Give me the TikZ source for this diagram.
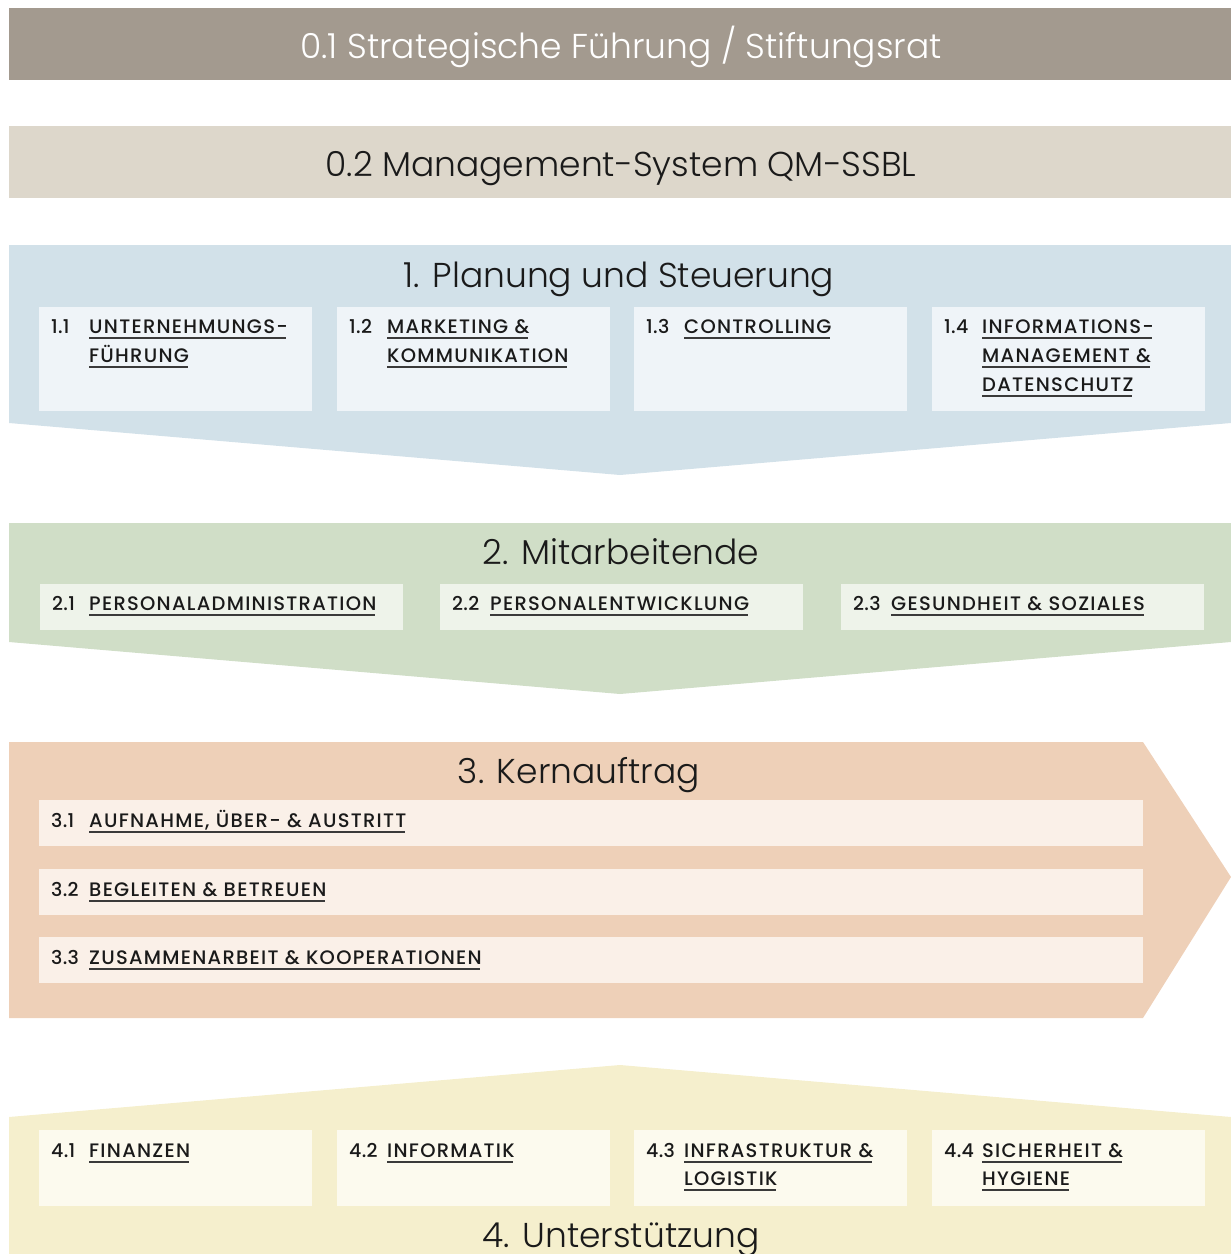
\documentclass[tikz,border=0pt]{standalone}
\usepackage{fontspec}
\setmainfont{Poppins}
\newfontfamily\titlefont{Poppins Light}
\newfontfamily\labfont{Poppins Medium}[LetterSpace=6.5]
\newfontfamily\numfont{Poppins Medium}[LetterSpace=1.5]
\definecolor{cA}{HTML}{A39A8F}
\definecolor{cB}{HTML}{DDD7CB}
\definecolor{cOne}{HTML}{D2E1E9}
\definecolor{sOne}{HTML}{EFF4F8}
\definecolor{cTwo}{HTML}{D0DEC7}
\definecolor{sTwo}{HTML}{EEF3EA}
\definecolor{cThree}{HTML}{EED0B8}
\definecolor{sThree}{HTML}{FAF0E8}
\definecolor{cFour}{HTML}{F5EFCD}
\definecolor{sFour}{HTML}{FCFAEE}
\definecolor{tc}{HTML}{1A1A1A}
\definecolor{ulc}{HTML}{3A3A3A}
\newcommand\ulw[1]{\setbox0=\hbox{#1\kern-1.3pt}\rlap{\textcolor{ulc}{\rule[-5.7pt]{\wd0}{1.5pt}}}\box0}
\begin{document}
\begin{tikzpicture}[x=1pt,y=-1pt,
  ttl/.style={font=\titlefont\fontsize{34.5}{34.5}\selectfont, inner sep=0pt, anchor=base, text=tc},
  num/.style={font=\numfont\fontsize{19}{20}\selectfont, inner sep=0pt, anchor=base west, text=tc},
  lab/.style={font=\labfont\fontsize{19.5}{20}\selectfont, inner sep=0pt, anchor=base west, text=tc},
  sub/.style={anchor=north west, inner sep=0pt, draw=none, minimum width=#1},
  band/.style={anchor=north west, inner sep=0pt, minimum width=1222pt, minimum height=72pt}
]
\useasboundingbox (0,0) rectangle (1231,1254);
% bands 0.1 / 0.2
\node[band, fill=cA] (bA) at (9,8) {};
\node[ttl, text=white] (tA) at (621,58) {0.1 Strategische Führung / Stiftungsrat};
\node[band, fill=cB] (bB) at (9,126) {};
\node[ttl] (tB) at (621,176) {0.2 Management-System QM-SSBL};
% section 1
\fill[cOne] (9,245) -- (1231,245) -- (1231,423) -- (620,475) -- (9,423) -- cycle;
\node[ttl] (t1) at (619,287) {1. Planung und Steuerung};
\foreach \x/\n in {39/11,337/12,634/13,932/14}{
  \node[sub=273pt, minimum height=104pt, fill=sOne] (b\n) at (\x,307) {};
}
\node[num] (n11) at (51,333) {1.1};
\node[lab] (l11a) at (89,333) {\ulw{UNTERNEHMUNGS-}};
\node[lab] (l11b) at (89,362) {\ulw{FÜHRUNG}};
\node[num] (n12) at (349,333) {1.2};
\node[lab] (l12a) at (387,333) {\ulw{MARKETING \&}};
\node[lab] (l12b) at (387,362) {\ulw{KOMMUNIKATION}};
\node[num] (n13) at (646,333) {1.3};
\node[lab] (l13a) at (684,333) {\ulw{CONTROLLING}};
\node[num] (n14) at (944,333) {1.4};
\node[lab] (l14a) at (982,333) {\ulw{INFORMATIONS-}};
\node[lab] (l14b) at (982,362) {\ulw{MANAGEMENT \&}};
\node[lab] (l14c) at (982,391) {\ulw{DATENSCHUTZ}};
% section 2
\fill[cTwo] (9,523) -- (1231,523) -- (1231,642) -- (620,694) -- (9,642) -- cycle;
\node[ttl] (t2) at (621,564) {2. Mitarbeitende};
\foreach \x/\n in {40/21,440/22,841/23}{
  \node[sub=363pt, minimum height=46pt, fill=sTwo] (b\n) at (\x,584) {};
}
\node[num] (n21) at (52,610) {2.1};
\node[lab] (l21) at (89,610) {\ulw{PERSONALADMINISTRATION}};
\node[num] (n22) at (452,610) {2.2};
\node[lab] (l22) at (490,610) {\ulw{PERSONALENTWICKLUNG}};
\node[num] (n23) at (853,610) {2.3};
\node[lab] (l23) at (891,610) {\ulw{GESUNDHEIT \& SOZIALES}};
% section 3
\fill[cThree] (9,742) -- (1143,742) -- (1231,877) -- (1143,1018) -- (9,1018) -- cycle;
\node[ttl] (t3) at (579,783) {3. Kernauftrag};
\foreach \y/\n in {800/31,869/32,937/33}{
  \node[sub=1104pt, minimum height=46pt, fill=sThree] (b\n) at (39,\y) {};
}
\node[num] (n31) at (51,827) {3.1};
\node[lab] (l31) at (89,827) {\ulw{AUFNAHME, ÜBER- \& AUSTRITT}};
\node[num] (n32) at (51,896) {3.2};
\node[lab] (l32) at (89,896) {\ulw{BEGLEITEN \& BETREUEN}};
\node[num] (n33) at (51,964) {3.3};
\node[lab] (l33) at (89,964) {\ulw{ZUSAMMENARBEIT \& KOOPERATIONEN}};
% section 4
\fill[cFour] (9,1117) -- (620,1065) -- (1231,1117) -- (1231,1254) -- (9,1254) -- cycle;
\foreach \x/\n in {39/41,337/42,634/43,932/44}{
  \node[sub=273pt, minimum height=76pt, fill=sFour] (b\n) at (\x,1130) {};
}
\node[num] (n41) at (51,1157) {4.1};
\node[lab] (l41) at (89,1157) {\ulw{FINANZEN}};
\node[num] (n42) at (349,1157) {4.2};
\node[lab] (l42) at (387,1157) {\ulw{INFORMATIK}};
\node[num] (n43) at (646,1157) {4.3};
\node[lab] (l43a) at (684,1157) {\ulw{INFRASTRUKTUR \&}};
\node[lab] (l43b) at (684,1185) {\ulw{LOGISTIK}};
\node[num] (n44) at (944,1157) {4.4};
\node[lab] (l44a) at (982,1157) {\ulw{SICHERHEIT \&}};
\node[lab] (l44b) at (982,1185) {\ulw{HYGIENE}};
\node[ttl] (t4) at (621,1247) {4. Unterstützung};
\end{tikzpicture}
\end{document}
